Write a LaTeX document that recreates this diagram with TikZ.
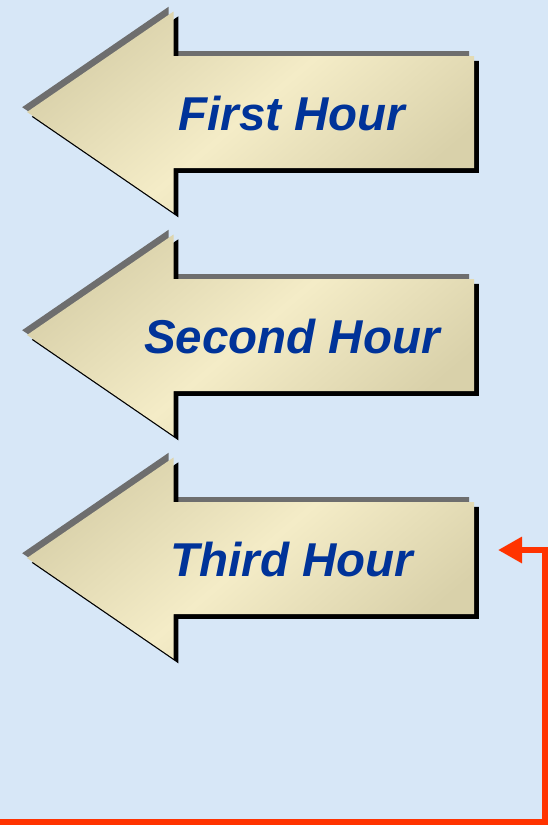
\documentclass[tikz,border=0pt]{standalone}
\usepackage{fontspec}
\setmainfont{Liberation Sans}
\usetikzlibrary{arrows.meta}

\definecolor{bgblue}{RGB}{215,231,247}
\definecolor{creamlight}{RGB}{244,236,199}
\definecolor{creamdark}{RGB}{217,209,170}
\definecolor{edgegray}{RGB}{110,110,110}
\definecolor{hourblue}{RGB}{0,51,153}
\definecolor{loopred}{RGB}{255,51,0}

% outline of one left-pointing block arrow, centred vertically on #1
\newcommand\hourshape[1]{(27,#1) -- (173.5,#1-100.5) -- (173.5,#1-56) -- (474,#1-56)
  -- (474,#1+56) -- (173.5,#1+56) -- (173.5,#1+100.5) -- cycle}

\tikzset{
  arrowbody/.style={top color=creamdark, bottom color=creamdark,
    middle color=creamlight, shading angle=40},
  arrowlight/.style={fill=edgegray, shift={(-4.8,-4.8)}},
  arrowshadow/.style={fill=black, shift={(4.8,4.8)}},
  hourlabel/.style={text=hourblue, anchor=base, inner sep=0pt,
    font=\fontsize{47.5}{57}\selectfont\bfseries\itshape},
  loopline/.style={draw=loopred, line width=6pt, line join=miter,
    -{Triangle[length=24pt,width=25pt]}},
}

\begin{document}
\begin{tikzpicture}[x=1pt,y=-1pt]
  \useasboundingbox (0,0) rectangle (548,825);
  \fill[bgblue] (0,0) rectangle (548,825);

  % three embossed block arrows with their labels
  \foreach \cy/\lbl/\n in {112/First Hour/1, 335/Second Hour/2, 558/Third Hour/3}{
    \fill[arrowlight] \hourshape{\cy};
    \fill[arrowshadow] \hourshape{\cy};
    \shade[arrowbody] \hourshape{\cy};
    \node[hourlabel] (hour\n) at (292,\cy+18) {\lbl};
  }

  % red return line along the bottom and up the right side
  \coordinate (loopstart) at (0,822);
  \coordinate (loopcorner) at (545,822);
  \coordinate (looptip) at (498,550);
  \draw[loopline] (loopstart) -- (loopcorner) |- (looptip);
\end{tikzpicture}
\end{document}
